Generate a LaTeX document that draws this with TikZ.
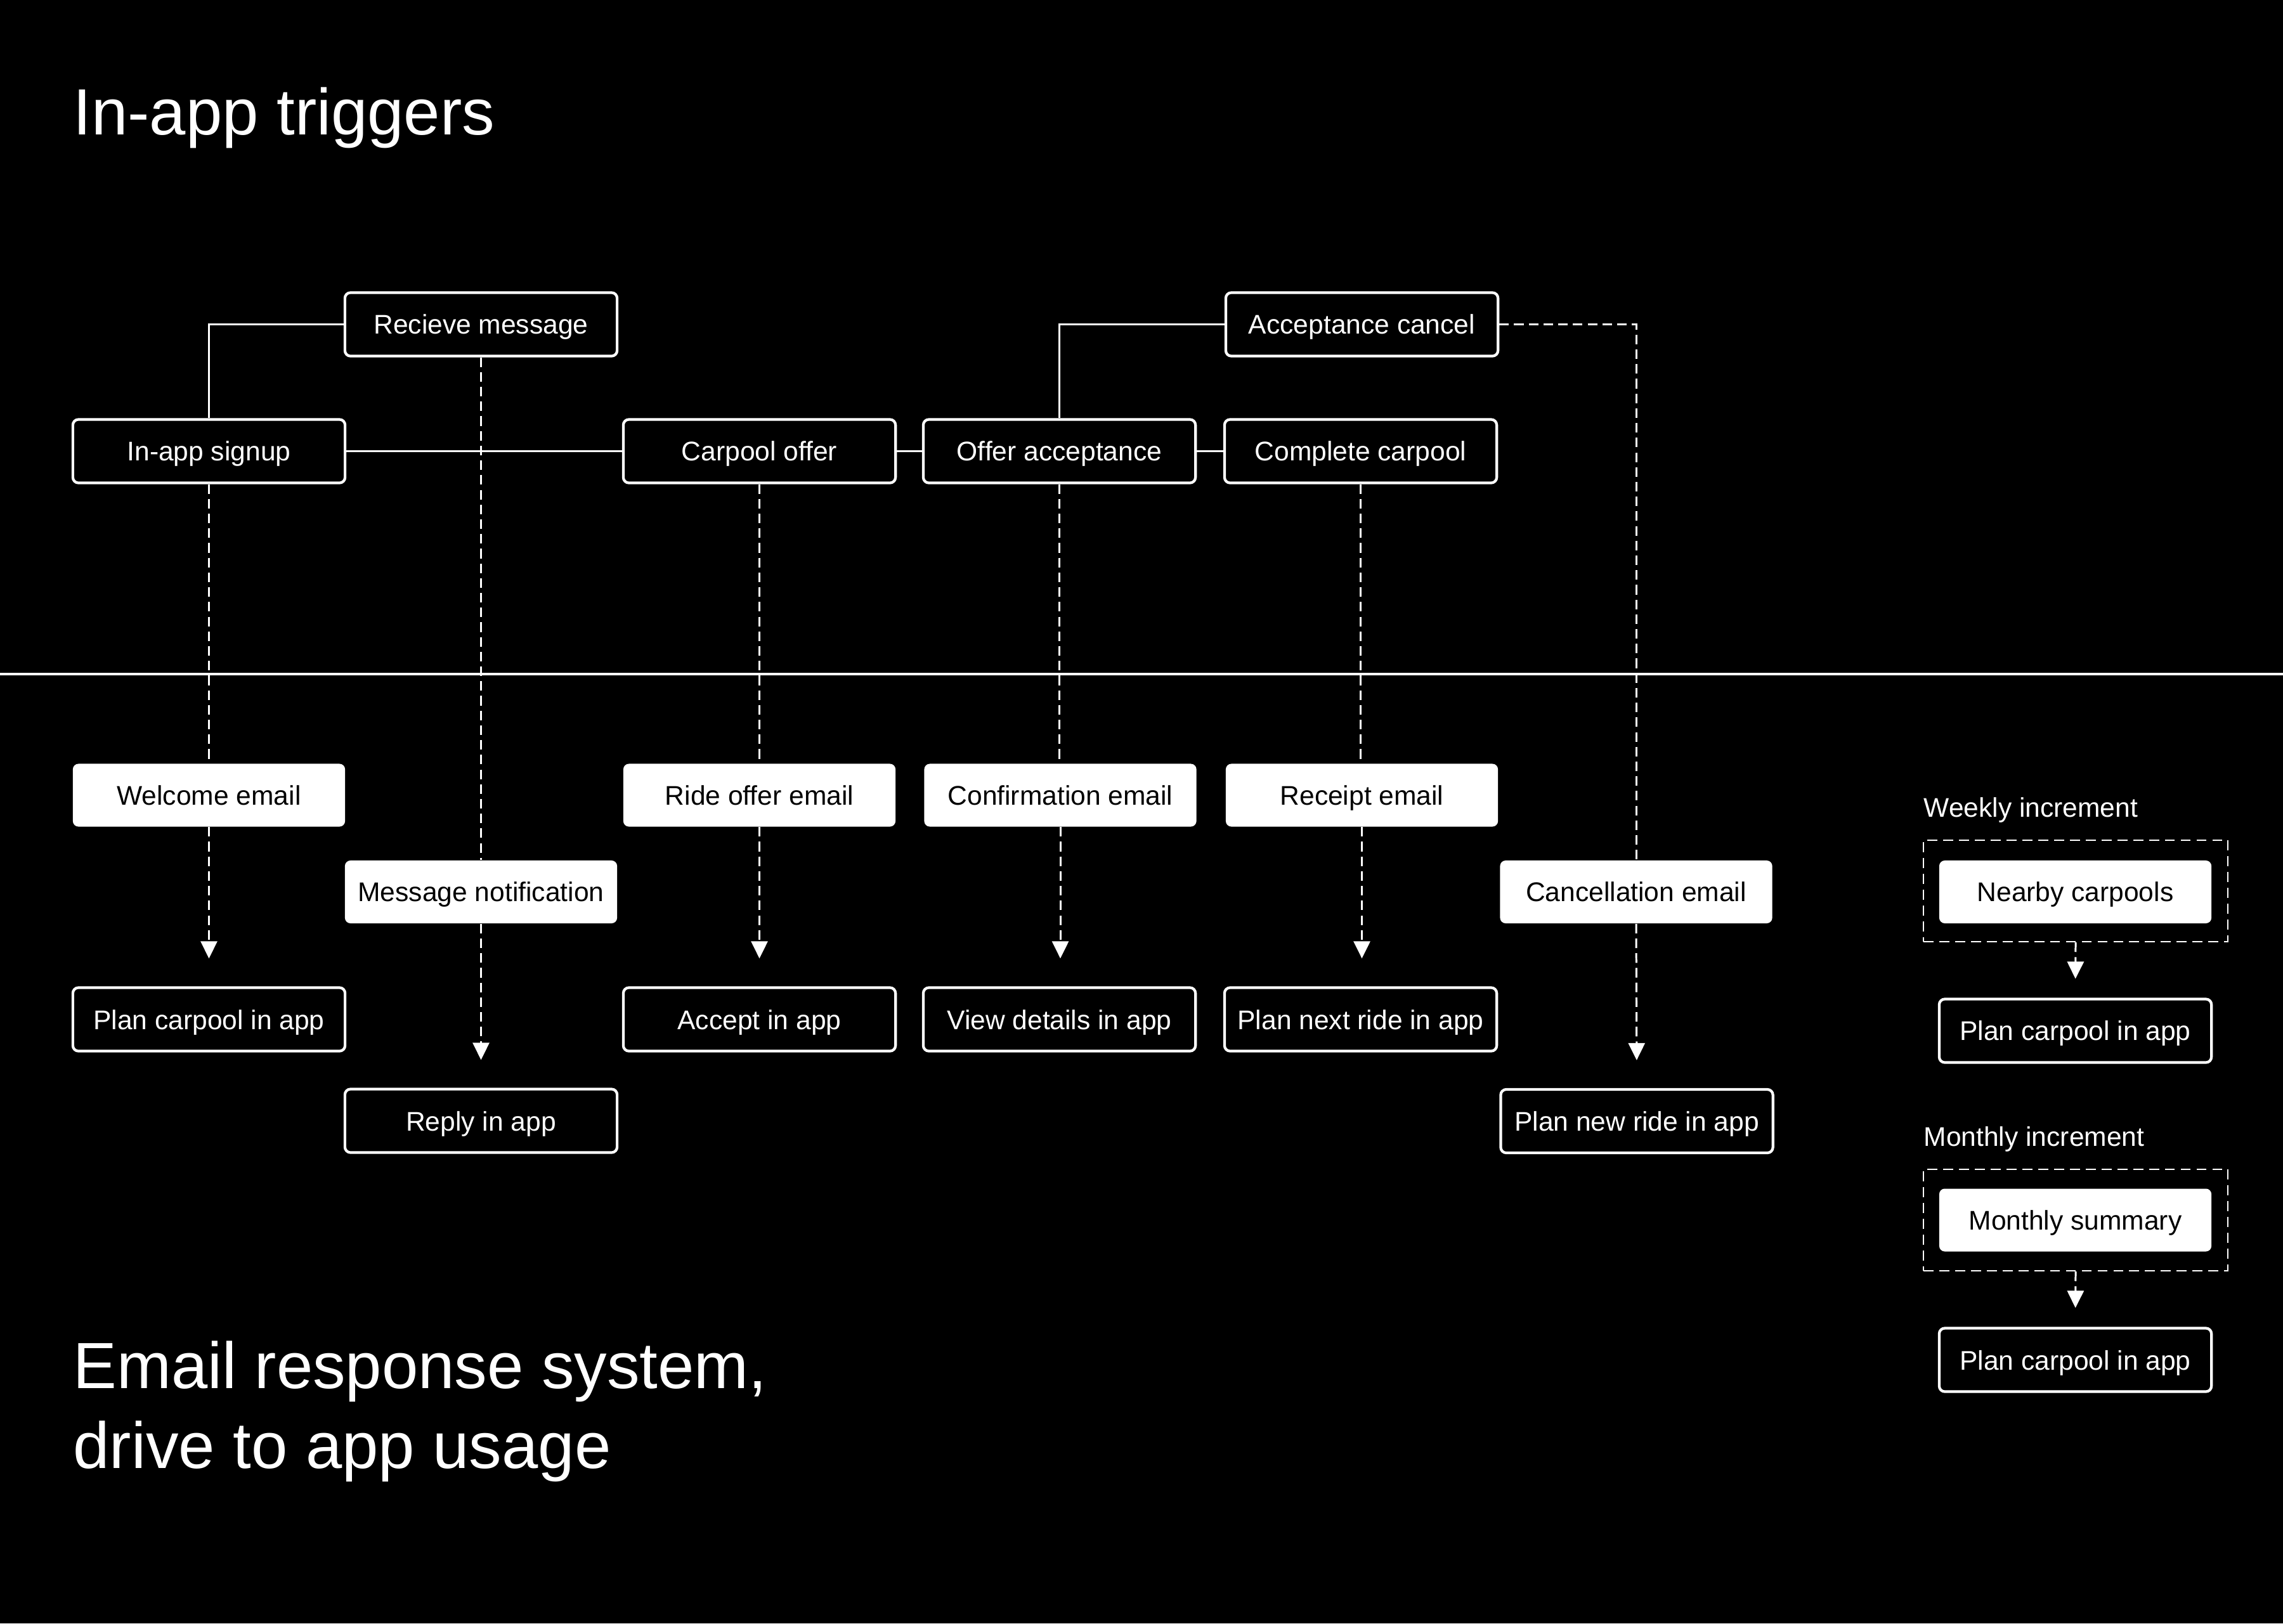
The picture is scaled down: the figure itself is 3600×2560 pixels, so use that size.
\documentclass[tikz,border=0pt]{standalone}
\usepackage{fontspec}
\setmainfont{Liberation Sans}
\usetikzlibrary{arrows.meta}
\pgfdeclarelayer{bg}
\pgfsetlayers{bg,main}
\newcommand\dgboxfont{\fontsize{12.1pt}{14.5pt}\selectfont}
\newcommand\dgtitlefont{\fontsize{29.3pt}{35.6pt}\selectfont}
\begin{document}
\begin{tikzpicture}[x=0.01cm,y=-0.01cm,
  outbox/.style={draw=white, line width=1.2pt, fill=black, text=white, rounded corners=2.5pt,
    minimum width=4.29cm, minimum height=1.0cm, inner sep=0pt, font=\dgboxfont,
    text height=9.5pt, text depth=0.7pt},
  fillbox/.style={fill=white, text=black, rounded corners=2.5pt,
    minimum width=4.29cm, minimum height=0.99cm, inner sep=0pt, font=\dgboxfont,
    text height=9.5pt, text depth=0.7pt},
  groupbox/.style={draw=white, line width=0.6pt, dash pattern=on 4.5pt off 2.6pt,
    minimum width=4.8cm, minimum height=1.6cm, inner sep=0pt},
  solidline/.style={draw=white, line width=0.85pt},
  dashline/.style={draw=white, line width=0.85pt, dash pattern=on 4.3pt off 2.3pt},
  arr/.style={dashline, -{Triangle[width=7.4pt,length=7.7pt]}, shorten >=12.5pt},
  shortarr/.style={dashline, -{Triangle[width=7.4pt,length=7.7pt]}, shorten >=8.5pt},
  title/.style={text=white, font=\dgtitlefont, inner sep=0pt, anchor=base west, align=left},
  label/.style={text=white, font=\dgboxfont, inner sep=0pt, anchor=base west}
]
\useasboundingbox (0,0) rectangle (3600,2560);

% titles
\node[title] (t1) at (115,212) {In-app triggers};
\node[title] (t2) at (115,2315) {Email response system,\\drive to app usage};

% divider
\draw[white, line width=0.9pt] (0,1063) -- (3600,1063);

% trigger row
\node[outbox] (signup)   at (329.5,711.5)  {In-app signup};
\node[outbox] (recv)     at (758.5,511.5)  {Recieve message};
\node[outbox] (carpool)  at (1197.5,711.5) {Carpool offer};
\node[outbox] (offeracc) at (1670.5,711.5) {Offer acceptance};
\node[outbox] (complete) at (2145.5,711.5) {Complete carpool};
\node[outbox] (acccancel) at (2147.5,511.5) {Acceptance cancel};

% emails
\node[fillbox] (welcome)  at (329.5,1254)   {Welcome email};
\node[fillbox] (rideoffer) at (1197.5,1254) {Ride offer email};
\node[fillbox] (confirm)  at (1672,1254)    {Confirmation email};
\node[fillbox] (receipt)  at (2147.5,1254)  {Receipt email};
\node[fillbox] (msgnotif) at (758.5,1406.5) {Message notification};
\node[fillbox] (cancelemail) at (2580,1406.5) {Cancellation email};

% in-app targets
\node[outbox] (plan1)    at (329.5,1607.5)  {Plan carpool in app};
\node[outbox] (accept)   at (1197.5,1607.5) {Accept in app};
\node[outbox] (viewdet)  at (1670.5,1607.5) {View details in app};
\node[outbox] (plannext) at (2145.5,1607.5) {Plan next ride in app};
\node[outbox] (reply)    at (758.5,1767.5)  {Reply in app};
\node[outbox] (plannew)  at (2581,1768)     {Plan new ride in app};

% right panel
\node[label] (weeklbl) at (3033,1288) {Weekly increment};
\node[groupbox] (weekbox) at (3273,1405) {};
\node[fillbox] (nearby) at (3272.5,1406.5) {Nearby carpools};
\node[outbox] (plan2) at (3272.5,1625.5) {Plan carpool in app};
\node[label] (monthlbl) at (3033,1807) {Monthly increment};
\node[groupbox] (monthbox) at (3273,1924) {};
\node[fillbox] (summary) at (3272.5,1924) {Monthly summary};
\node[outbox] (plan3) at (3272.5,2144.5) {Plan carpool in app};

\begin{pgfonlayer}{bg}
  \fill[black] (0,0) rectangle (3600,2560);
  % solid links between triggers
  \draw[solidline] (signup.north) |- (recv.west);
  \draw[solidline] (signup.east) -- (carpool.west);
  \draw[solidline] (carpool.east) -- (offeracc.west);
  \draw[solidline] (offeracc.east) -- (complete.west);
  \draw[solidline] (offeracc.north) |- (acccancel.west);
  % dashed flows
  \draw[dashline] (signup.south) -- (welcome.north);
  \draw[arr] (welcome.south) -- (plan1.north);
  \draw[dashline] (recv.south) -- (msgnotif.north);
  \draw[arr] (msgnotif.south) -- (reply.north);
  \draw[dashline] (carpool.south) -- (rideoffer.north);
  \draw[arr] (rideoffer.south) -- (accept.north);
  \draw[dashline] (offeracc.south) -- (offeracc.south |- confirm.north);
  \draw[arr] (confirm.south) -- (confirm.south |- viewdet.north);
  \draw[dashline] (complete.south) -- (complete.south |- receipt.north);
  \draw[arr] (receipt.south) -- (receipt.south |- plannext.north);
  \draw[dashline] (acccancel.east) -| (cancelemail.north);
  \draw[arr] (cancelemail.south) -- (plannew.north);
  \draw[shortarr] (weekbox.south) -- (plan2.north);
  \draw[shortarr] (monthbox.south) -- (plan3.north);
\end{pgfonlayer}
\end{tikzpicture}
\end{document}
